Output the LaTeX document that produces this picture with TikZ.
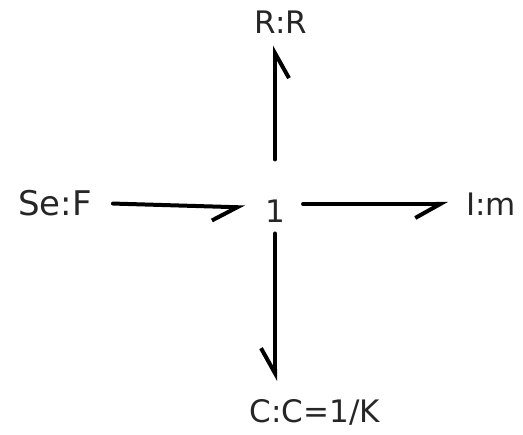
\documentclass[tikz,border=0pt]{standalone}
\usepackage{fontspec}
\setmainfont{DejaVu Sans}
\usetikzlibrary{arrows.meta}

\tikzset{
  lbl/.style={inner sep=2pt, text=black!85, font=\fontsize{31}{37}\selectfont},
  bond/.style={line width=4pt, line cap=round,
    -{Straight Barb[right, length=25pt, width=28pt, line width=4pt]}}
}

\begin{document}
\begin{tikzpicture}[x=1pt, y=1pt]
    \useasboundingbox (0,0) rectangle (523,435);
    % junction and elements
    \node[lbl] (one) at (275,224) {1};
    \node[lbl, font=\fontsize{34}{40}\selectfont] (se) at (55,232) {Se:F};
    \node[lbl] (im) at (491,231) {I:m};
    \node[lbl] (rr) at (281,413) {R:R};
    \node[lbl] (cc) at (315,23) {C:C=1/K};
    % bonds
    \draw[bond, shorten <=19pt, shorten >=18pt] (se.east) -- ([yshift=-5pt]se.east -| one.west);
    \draw[bond, shorten <=16pt, shorten >=16pt] (im.west -| one.east) -- (im.west);
    \draw[bond, shorten <=38pt, shorten >=10pt] (one.north) -- (one.north |- rr.south);
    \draw[bond, shorten <=9pt, shorten >=16pt] (one.south) -- (one.south |- cc.north);
\end{tikzpicture}
\end{document}
